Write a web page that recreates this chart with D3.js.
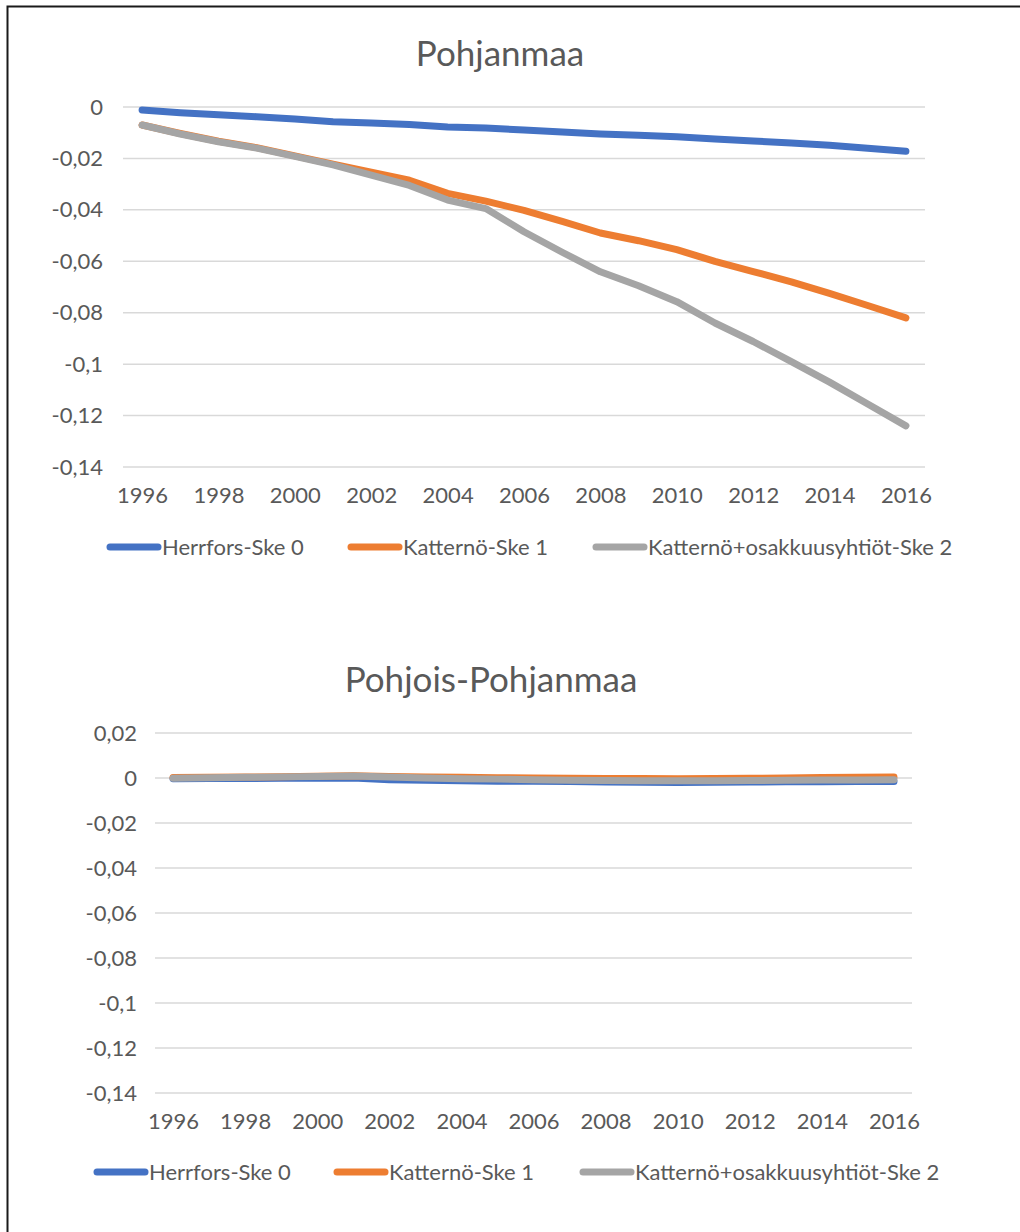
<!DOCTYPE html>
<html>
<head>
<meta charset="utf-8">
<script src="https://cdnjs.cloudflare.com/ajax/libs/d3/7.8.5/d3.min.js"></script>
<style>
  body { margin: 0; background: #fff; }
  svg { display: block; }
  text { font-family: Lato, "Open Sans", sans-serif; fill: #595959; }
</style>
</head>
<body>
<svg id="chart" width="1020" height="1232"></svg>
<script>
const years = d3.range(1996, 2017).map(String);
const yearTicks = ["1996", "1998", "2000", "2002", "2004", "2006", "2008", "2010", "2012", "2014", "2016"];
const seriesNames = ["Herrfors-Ske 0", "Katternö-Ske 1", "Katternö+osakkuusyhtiöt-Ske 2"];
const colors = ["#4472C4", "#ED7D31", "#A5A5A5"];

// Pohjanmaa
const pohjHerrfors = [-0.0012, -0.0022, -0.003, -0.0038, -0.0047, -0.0057, -0.0062, -0.0068, -0.0078, -0.0082,
  -0.0089, -0.0097, -0.0105, -0.011, -0.0116, -0.0124, -0.0132, -0.014, -0.0149, -0.016, -0.0172];
const pohjKatterno = [-0.007, -0.0103, -0.0133, -0.0158, -0.019, -0.0222, -0.0253, -0.0285, -0.0336, -0.0366,
  -0.0402, -0.0445, -0.049, -0.052, -0.0555, -0.06, -0.064, -0.068, -0.0725, -0.0772, -0.082];
const pohjKattOsakk = [-0.007, -0.0105, -0.0135, -0.016, -0.0192, -0.0225, -0.0265, -0.0305, -0.0362, -0.0395,
  -0.0485, -0.0565, -0.0641, -0.0695, -0.0757, -0.084, -0.0912, -0.099, -0.107, -0.1155, -0.124];
const pohjTicks = [0, -0.02, -0.04, -0.06, -0.08, -0.1, -0.12, -0.14];

// Pohjois-Pohjanmaa
const ppHerrfors = [-0.0003, -0.0002, -0.0002, -0.0001, -0.0001, 0.0, -0.0008, -0.001, -0.0012, -0.0014,
  -0.0015, -0.0016, -0.0018, -0.0019, -0.002, -0.0019, -0.0018, -0.0017, -0.0017, -0.0016, -0.0016];
const ppKatterno = [0.0002, 0.0003, 0.0004, 0.0006, 0.0008, 0.001, 0.0007, 0.0005, 0.0003, 0.0001,
  0.0, -0.0001, -0.0002, -0.0002, -0.0003, -0.0002, -0.0001, 0.0, 0.0002, 0.0003, 0.0004];
const ppKattOsakk = [-0.0001, 0.0001, 0.0003, 0.0005, 0.0007, 0.0009, 0.0004, 0.0, -0.0003, -0.0005,
  -0.0008, -0.001, -0.0011, -0.0012, -0.0012, -0.0012, -0.0011, -0.001, -0.0009, -0.0009, -0.0008];
const ppTicks = [0.02, 0, -0.02, -0.04, -0.06, -0.08, -0.1, -0.12, -0.14];

const fmt = d3.formatLocale({ decimal: ",", thousands: " ", grouping: [3], currency: ["", ""], minus: "-" }).format("~g");

const svg = d3.select("#chart");

// frame of the screenshot
svg.append("path")
  .attr("d", "M7.5,1232 L7.5,6.5 L1020,6.5")
  .attr("fill", "none")
  .attr("stroke", "#1a1a1a")
  .attr("stroke-width", 2);

function drawChart(cfg) {
  const g = svg.append("g");

  const x = d3.scalePoint().domain(years).range([cfg.left, cfg.right]).padding(0.5);
  const y = d3.scaleLinear().domain(cfg.domain).range([cfg.top, cfg.bottom]);

  g.append("text")
    .attr("x", cfg.titleX)
    .attr("y", cfg.titleY)
    .attr("text-anchor", "middle")
    .attr("font-size", 35)
    .text(cfg.title);

  // gridlines
  g.append("g")
    .selectAll("line")
    .data(cfg.ticks)
    .enter()
    .append("line")
    .attr("x1", cfg.left)
    .attr("x2", cfg.right)
    .attr("y1", (d) => y(d))
    .attr("y2", (d) => y(d))
    .attr("stroke", "#D9D9D9")
    .attr("stroke-width", 1.5);

  // y axis labels
  const yAxis = d3.axisLeft(y).tickValues(cfg.ticks).tickFormat(fmt).tickSize(0).tickPadding(0);
  const ya = g.append("g").attr("transform", `translate(${cfg.yLabelX},0)`).call(yAxis);
  ya.select(".domain").remove();
  ya.selectAll("text").attr("font-size", 22).attr("font-family", null).attr("fill", "#595959");

  // x axis labels
  const xAxis = d3.axisBottom(x).tickValues(yearTicks).tickSize(0).tickPadding(0);
  const xa = g.append("g").attr("transform", `translate(0,${cfg.xLabelY})`).call(xAxis);
  xa.select(".domain").remove();
  xa.selectAll("text").attr("font-size", 22).attr("font-family", null).attr("fill", "#595959");

  const line = d3.line().x((d, i) => x(years[i])).y((d) => y(d));

  g.append("g")
    .selectAll("path")
    .data(cfg.series)
    .enter()
    .append("path")
    .attr("d", (d) => line(d))
    .attr("fill", "none")
    .attr("stroke", (d, i) => colors[i])
    .attr("stroke-width", 7)
    .attr("stroke-linecap", "round")
    .attr("stroke-linejoin", "round");

  // legend
  const lg = g.append("g")
    .selectAll("g")
    .data(seriesNames)
    .enter()
    .append("g")
    .attr("transform", (d, i) => `translate(${cfg.legendX[i]},${cfg.legendY})`);
  lg.append("line")
    .attr("x1", 3).attr("x2", 51)
    .attr("stroke", (d, i) => colors[i])
    .attr("stroke-width", 7)
    .attr("stroke-linecap", "round");
  lg.append("text")
    .attr("x", 55)
    .attr("dy", "0.35em")
    .attr("font-size", 22)
    .text((d) => d);
}

drawChart({
  title: "Pohjanmaa", titleX: 500, titleY: 66,
  left: 123, right: 925, top: 107, bottom: 467,
  domain: [0, -0.14], ticks: pohjTicks,
  yLabelX: 103, xLabelY: 487,
  series: [pohjHerrfors, pohjKatterno, pohjKattOsakk],
  legendX: [107, 348, 593], legendY: 547
});

drawChart({
  title: "Pohjois-Pohjanmaa", titleX: 491, titleY: 692,
  left: 155, right: 912, top: 733, bottom: 1093,
  domain: [0.02, -0.14], ticks: ppTicks,
  yLabelX: 137, xLabelY: 1113,
  series: [ppHerrfors, ppKatterno, ppKattOsakk],
  legendX: [94, 334, 580], legendY: 1172
});
</script>
</body>
</html>
